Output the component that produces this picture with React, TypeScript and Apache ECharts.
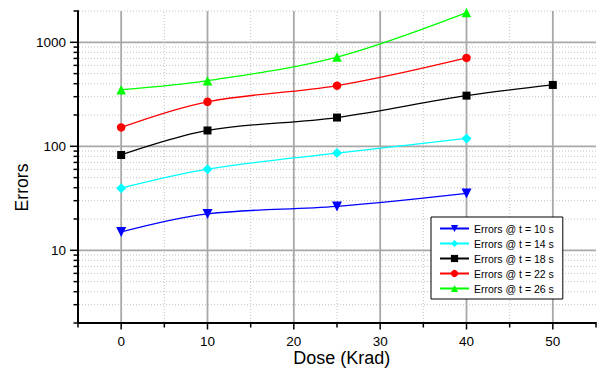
import React, { useEffect, useRef } from "react";
import * as echarts from "echarts";

const doseA = [0, 10, 25, 40];
const doseB = [0, 10, 25, 40, 50];
const errors10 = [15, 22.4, 26.4, 35.2];
const errors14 = [39.6, 60.3, 86, 119];
const errors18 = [82.5, 142, 189, 307, 389];
const errors22 = [152, 268, 383, 708];
const errors26 = [350, 428, 722, 1930];
const seriesNames = [
  "Errors @ t = 10 s",
  "Errors @ t = 14 s",
  "Errors @ t = 18 s",
  "Errors @ t = 22 s",
  "Errors @ t = 26 s",
];
const yMajorTicks = [10, 100, 1000];
const yMinorTicks = [2, 3, 4, 5, 6, 7, 8, 9, 20, 30, 40, 50, 60, 70, 80, 90, 200, 300, 400, 500, 600, 700, 800, 900, 2000];
const xMajorTicks = [0, 10, 20, 30, 40, 50];
const xMinorTicks = [-5, 5, 15, 25, 35, 45, 55];

const X_MIN = -5;
const X_MAX = 55;
const Y_MIN = 2;
const Y_MAX = 2000;
const FONT = "'Liberation Sans', Arial, sans-serif";

export default function App() {
  const ref = useRef<HTMLDivElement>(null);
  useEffect(() => {
    if (!ref.current) return;
    const chart = echarts.init(ref.current, undefined, { renderer: "svg" });
    const yGridData = [
      ...yMajorTicks.map((v) => [X_MIN, v, 1]),
      ...yMinorTicks.map((v) => [X_MIN, v, 0]),
    ];
    const xGridData = [
      ...xMajorTicks.map((v) => [v, Y_MIN, 1]),
      ...xMinorTicks.map((v) => [v, Y_MIN, 0]),
    ];
    const mk = (
      name: string,
      xs: number[],
      ys: number[],
      color: string,
      symbol: string,
      size: number,
      rotate = 0
    ) => ({
      type: "line",
      name,
      data: xs.map((x, i) => [x, ys[i]]),
      symbol,
      symbolSize: size,
      symbolRotate: rotate,
      smooth: 0.35,
      z: 5,
      lineStyle: { color, width: 1.3 },
      itemStyle: { color },
    });
    chart.setOption({
      animation: false,
      backgroundColor: "#ffffff",
      grid: { left: 78, right: 4, top: 11, bottom: 51, containLabel: false },
      xAxis: {
        type: "value",
        min: X_MIN,
        max: X_MAX,
        interval: 5,
        z: 3,
        axisLine: { show: true, onZero: false, lineStyle: { color: "#000", width: 2 } },
        axisTick: { show: false },
        splitLine: { show: false },
        axisLabel: {
          margin: 11,
          fontSize: 13.5,
          fontFamily: FONT,
          color: "#000",
          formatter: (v: number) => (v % 10 === 0 && v >= 0 && v <= 50 ? String(v) : ""),
        },
      },
      yAxis: {
        type: "log",
        logBase: 10,
        min: Y_MIN,
        max: Y_MAX,
        z: 3,
        axisLine: { show: true, onZero: false, lineStyle: { color: "#000", width: 2 } },
        axisTick: { show: false },
        splitLine: { show: false },
        axisLabel: {
          margin: 12,
          fontSize: 13.5,
          fontFamily: FONT,
          color: "#000",
          formatter: (v: number) => (yMajorTicks.includes(Math.round(v)) ? String(Math.round(v)) : ""),
        },
      },
      legend: {
        orient: "vertical",
        left: 431,
        top: 217,
        data: seriesNames,
        backgroundColor: "#fff",
        borderColor: "#000",
        borderWidth: 1,
        borderRadius: 0,
        padding: [6, 9, 5, 8],
        itemWidth: 29,
        itemHeight: 9,
        itemGap: 4,
        textStyle: { fontSize: 10.5, fontFamily: FONT, color: "#000" },
      },
      graphic: [
        {
          type: "text",
          x: 21.5,
          y: 187.5,
          rotation: Math.PI / 2,
          style: {
            text: "Errors",
            font: `17.6px ${FONT}`,
            fill: "#000",
            align: "center",
            verticalAlign: "middle",
          },
        },
        {
          type: "text",
          x: 341.7,
          y: 358,
          style: {
            text: "Dose (Krad)",
            font: `18px ${FONT}`,
            fill: "#000",
            align: "center",
            verticalAlign: "middle",
          },
        },
      ],
      series: [
        {
          type: "custom",
          name: "ygrid",
          silent: true,
          clip: false,
          z: 1,
          dimensions: ["x", "y", "major"],
          encode: { x: 0, y: 1 },
          data: yGridData,
          renderItem: (params: any, api: any) => {
            const v = api.value(1);
            const major = api.value(2) === 1;
            const p = api.coord([X_MIN, v]);
            const q = api.coord([X_MAX, v]);
            const children: any[] = [
              {
                type: "line",
                shape: { x1: p[0] - (major ? 8 : 4.5), y1: p[1], x2: p[0], y2: p[1] },
                style: { stroke: "#000", lineWidth: 1.5 },
              },
            ];
            if (v > Y_MIN) {
              children.unshift({
                type: "line",
                shape: { x1: p[0] + 1, y1: p[1], x2: q[0], y2: q[1] },
                style: major
                  ? { stroke: "#a8a8a8", lineWidth: 1.8 }
                  : { stroke: "#c4c4c4", lineWidth: 1, lineDash: [1, 2] },
              });
            }
            return { type: "group", children };
          },
        },
        {
          type: "custom",
          name: "xgrid",
          silent: true,
          clip: false,
          z: 1,
          dimensions: ["x", "y", "major"],
          encode: { x: 0, y: 1 },
          data: xGridData,
          renderItem: (params: any, api: any) => {
            const v = api.value(0);
            const major = api.value(2) === 1;
            const p = api.coord([v, Y_MIN]);
            const q = api.coord([v, Y_MAX]);
            const children: any[] = [
              {
                type: "line",
                shape: { x1: p[0], y1: p[1] + 1, x2: p[0], y2: p[1] + (major ? 6.5 : 4.5) },
                style: { stroke: "#000", lineWidth: 1.5 },
              },
            ];
            if (v > X_MIN && v < X_MAX) {
              children.unshift({
                type: "line",
                shape: { x1: p[0], y1: p[1] - 1, x2: q[0], y2: q[1] },
                style: major
                  ? { stroke: "#a8a8a8", lineWidth: 1.8 }
                  : { stroke: "#c4c4c4", lineWidth: 1, lineDash: [1, 2] },
              });
            }
            return { type: "group", children };
          },
        },
        mk(seriesNames[0], doseA, errors10, "#0000ff", "triangle", 10, 180),
        mk(seriesNames[1], doseA, errors14, "#00ffff", "diamond", 10),
        mk(seriesNames[2], doseB, errors18, "#000000", "rect", 8),
        mk(seriesNames[3], doseA, errors22, "#ff0000", "circle", 8.5),
        mk(seriesNames[4], doseA, errors26, "#00ff00", "triangle", 9.5),
      ],
    });
    return () => chart.dispose();
  }, []);
  return (
    <div
      ref={ref}
      style={{ position: "fixed", left: 0, top: 0, width: 600, height: 374, background: "#fff" }}
    />
  );
}
